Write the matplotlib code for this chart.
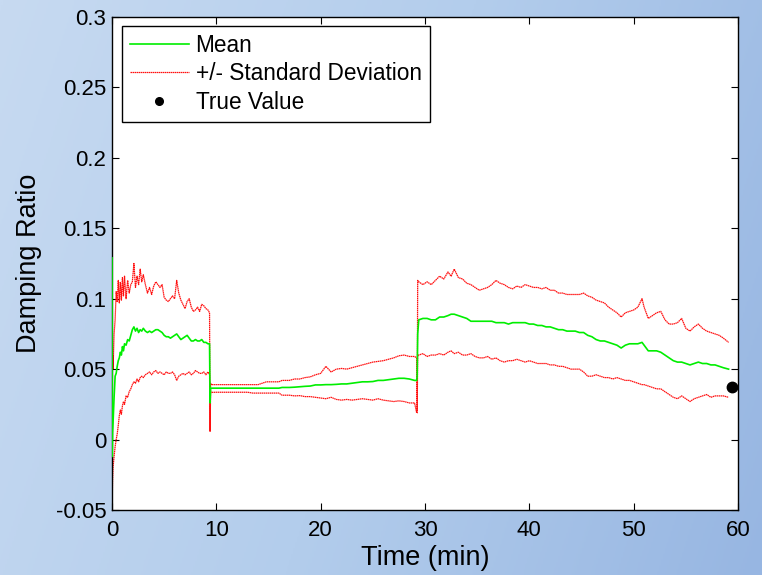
import numpy as np
import matplotlib
matplotlib.use('Agg')
import matplotlib.pyplot as plt
from matplotlib.colors import LinearSegmentedColormap
from matplotlib.lines import Line2D

plt.rcParams['font.family'] = ['Liberation Sans', 'DejaVu Sans']

# ---------------- data ----------------
time_a = [0, 0.02, 0.05, 0.1, 0.2, 0.3, 0.4, 0.5, 0.6, 0.7, 0.8, 0.9, 1.0, 1.1, 1.2,
          1.35, 1.5, 1.65, 1.8, 1.95, 2.1, 2.25, 2.4, 2.55, 2.7, 2.85, 3.0, 3.2, 3.4,
          3.6, 3.8, 4.0, 4.2, 4.4, 4.6, 4.8, 5.0, 5.2, 5.4, 5.6, 5.8, 6.0, 6.2, 6.4,
          6.6, 6.8, 7.0, 7.2, 7.4, 7.6, 7.8, 8.0, 8.2, 8.4, 8.6, 8.8, 9.0, 9.2, 9.35,
          9.4, 9.45, 9.5]
upper_a = [0.194, 0.02, 0.06, 0.05, 0.075, 0.085, 0.105, 0.098, 0.113, 0.097, 0.112,
           0.099, 0.115, 0.102, 0.116, 0.100, 0.113, 0.104, 0.110, 0.112, 0.125, 0.108,
           0.116, 0.110, 0.121, 0.112, 0.117, 0.110, 0.104, 0.108, 0.103, 0.109, 0.112,
           0.110, 0.108, 0.110, 0.101, 0.099, 0.098, 0.100, 0.102, 0.100, 0.113, 0.104,
           0.099, 0.096, 0.093, 0.098, 0.100, 0.094, 0.091, 0.092, 0.094, 0.091, 0.096,
           0.095, 0.093, 0.092, 0.090, 0.006, 0.040, 0.039]
mean_a = [0.129, -0.012, 0.005, 0.012, 0.030, 0.045, 0.047, 0.052, 0.056, 0.058, 0.062,
          0.060, 0.066, 0.063, 0.068, 0.067, 0.071, 0.070, 0.074, 0.078, 0.080, 0.077,
          0.079, 0.076, 0.078, 0.077, 0.079, 0.077, 0.076, 0.077, 0.076, 0.077, 0.078,
          0.078, 0.077, 0.076, 0.074, 0.073, 0.073, 0.072, 0.073, 0.074, 0.075, 0.073,
          0.071, 0.072, 0.073, 0.074, 0.072, 0.070, 0.070, 0.071, 0.070, 0.070, 0.071,
          0.069, 0.069, 0.068, 0.068, 0.026, 0.036, 0.0365]
lower_a = [-0.050, -0.045, -0.030, -0.020, -0.012, -0.005, 0.000, 0.004, 0.010, 0.017,
           0.021, 0.018, 0.024, 0.027, 0.025, 0.031, 0.030, 0.034, 0.036, 0.039, 0.041,
           0.040, 0.043, 0.041, 0.044, 0.045, 0.044, 0.046, 0.047, 0.048, 0.046, 0.048,
           0.049, 0.047, 0.048, 0.047, 0.046, 0.048, 0.047, 0.047, 0.048, 0.046, 0.042,
           0.045, 0.046, 0.047, 0.046, 0.047, 0.048, 0.046, 0.047, 0.049, 0.048, 0.047,
           0.047, 0.048, 0.046, 0.048, 0.046, 0.006, 0.034, 0.0335]

time_b = [10, 11, 12, 13, 13.5, 14, 14.8, 15, 16, 16.3, 17, 17.5, 18, 18.5, 19, 19.5,
          20, 20.5, 21, 21.5, 22, 22.5, 23, 23.5, 24, 24.5, 25, 25.5, 26, 26.5, 27,
          27.5, 28, 28.5, 29, 29.2, 29.25, 29.3]
upper_b = [0.039, 0.039, 0.039, 0.039, 0.039, 0.039, 0.041, 0.041, 0.041, 0.042, 0.042,
           0.043, 0.043, 0.044, 0.0445, 0.046, 0.047, 0.052, 0.048, 0.050, 0.0505, 0.050,
           0.051, 0.052, 0.053, 0.054, 0.055, 0.0555, 0.056, 0.057, 0.058, 0.0595, 0.060,
           0.059, 0.059, 0.058, 0.020, 0.113]
mean_b = [0.0365, 0.0365, 0.0365, 0.0365, 0.0365, 0.0365, 0.0365, 0.0365, 0.0365, 0.037,
          0.037, 0.0372, 0.0375, 0.0378, 0.038, 0.0388, 0.0388, 0.039, 0.039, 0.0392,
          0.0395, 0.0395, 0.040, 0.0405, 0.041, 0.041, 0.0412, 0.042, 0.042, 0.0425,
          0.043, 0.0435, 0.0435, 0.043, 0.042, 0.042, 0.045, 0.075]
lower_b = [0.0336, 0.0336, 0.0336, 0.0336, 0.033, 0.033, 0.033, 0.033, 0.033, 0.0315,
           0.0315, 0.031, 0.0312, 0.0305, 0.0305, 0.030, 0.0295, 0.029, 0.030, 0.0285,
           0.028, 0.0285, 0.028, 0.0285, 0.029, 0.0285, 0.028, 0.029, 0.028, 0.0275,
           0.027, 0.0275, 0.027, 0.026, 0.026, 0.019, 0.019, 0.060]

time_c = [29.4, 29.8, 30.2, 30.6, 31.0, 31.4, 31.8, 32.2, 32.5, 32.8, 33.2, 33.6, 34.0,
          34.4, 34.8, 35.2, 35.6, 36.0, 36.4, 36.8, 37.2, 37.6, 38.0, 38.4, 38.8, 39.2,
          39.6, 40.0, 40.4, 40.8, 41.2, 41.6, 42.0, 42.4, 42.8, 43.2, 43.6, 44.0, 44.4,
          44.8, 45.2, 45.6, 46.0, 46.4, 46.8, 47.2, 47.6, 48.0, 48.4, 48.8, 49.2, 49.6,
          50.0, 50.4, 50.8, 51.0, 51.4, 51.8, 52.2, 52.6, 53.0, 53.4, 53.8, 54.2, 54.6,
          55.0, 55.4, 55.8, 56.2, 56.6, 57.0, 57.4, 57.8, 58.2, 58.6, 59.1]
upper_c = [0.112, 0.110, 0.112, 0.110, 0.113, 0.116, 0.114, 0.119, 0.116, 0.121, 0.115,
           0.114, 0.111, 0.110, 0.108, 0.106, 0.107, 0.108, 0.110, 0.113, 0.111, 0.110,
           0.108, 0.107, 0.109, 0.108, 0.110, 0.109, 0.108, 0.108, 0.107, 0.108, 0.106,
           0.106, 0.104, 0.104, 0.103, 0.103, 0.103, 0.103, 0.104, 0.102, 0.101, 0.099,
           0.098, 0.097, 0.094, 0.092, 0.090, 0.087, 0.090, 0.091, 0.092, 0.094, 0.100,
           0.094, 0.086, 0.088, 0.090, 0.091, 0.085, 0.082, 0.082, 0.083, 0.086, 0.079,
           0.077, 0.080, 0.082, 0.079, 0.077, 0.076, 0.075, 0.074, 0.072, 0.069]
mean_c = [0.085, 0.086, 0.086, 0.085, 0.085, 0.087, 0.087, 0.088, 0.089, 0.089, 0.088,
          0.087, 0.086, 0.084, 0.084, 0.084, 0.084, 0.084, 0.084, 0.083, 0.083, 0.083,
          0.082, 0.083, 0.083, 0.083, 0.083, 0.082, 0.082, 0.081, 0.081, 0.080, 0.080,
          0.079, 0.078, 0.078, 0.077, 0.077, 0.077, 0.076, 0.076, 0.074, 0.073, 0.071,
          0.070, 0.070, 0.069, 0.068, 0.067, 0.065, 0.067, 0.068, 0.068, 0.068, 0.069,
          0.067, 0.063, 0.063, 0.063, 0.062, 0.060, 0.058, 0.056, 0.055, 0.055, 0.054,
          0.053, 0.054, 0.055, 0.054, 0.054, 0.053, 0.053, 0.052, 0.051, 0.050]
lower_c = [0.060, 0.061, 0.059, 0.060, 0.060, 0.061, 0.060, 0.062, 0.063, 0.061, 0.062,
           0.060, 0.060, 0.061, 0.059, 0.058, 0.058, 0.059, 0.057, 0.058, 0.056, 0.055,
           0.056, 0.056, 0.057, 0.056, 0.055, 0.056, 0.055, 0.054, 0.054, 0.054, 0.053,
           0.053, 0.052, 0.052, 0.051, 0.050, 0.050, 0.050, 0.048, 0.045, 0.045, 0.046,
           0.045, 0.044, 0.044, 0.043, 0.044, 0.043, 0.042, 0.042, 0.041, 0.040, 0.039,
           0.039, 0.038, 0.037, 0.036, 0.036, 0.034, 0.032, 0.030, 0.029, 0.031, 0.029,
           0.027, 0.029, 0.030, 0.031, 0.032, 0.030, 0.031, 0.031, 0.031, 0.030]

true_time = [59.4]
true_value = [0.037]

x_ticks = [0, 10, 20, 30, 40, 50, 60]
y_ticks = [-0.05, 0, 0.05, 0.1, 0.15, 0.2, 0.25, 0.3]
y_tick_labels = ['-0.05', '0', '0.05', '0.1', '0.15', '0.2', '0.25', '0.3']

time = time_a + time_b + time_c
mean = mean_a + mean_b + mean_c
upper = upper_a + upper_b + upper_c
lower = lower_a + lower_b + lower_c

# ---------------- figure ----------------
W, H = 762, 575
fig = plt.figure(figsize=(W / 100, H / 100), dpi=100)

bg = fig.add_axes([0, 0, 1, 1], zorder=-5)
bg.axis('off')
gx, gy = np.meshgrid(np.linspace(0, 1, 400), np.linspace(0, 1, 300))
grad = 0.8 * gx + 0.2 * gy
cmap = LinearSegmentedColormap.from_list('bgblue', ['#c7daf1', '#b3cdec', '#97b6e2'])
bg.imshow(grad, cmap=cmap, aspect='auto', extent=[0, 1, 0, 1], origin='upper')
bg.set_xlim(0, 1)
bg.set_ylim(0, 1)

ax = fig.add_axes([112 / W, 1 - 510 / H, 626 / W, 493 / H])
ax.set_facecolor('white')

red_ls = (0, (1.2, 0.4))
ax.plot(time, mean, color='#00ee00', lw=1.2, zorder=3)
ax.plot(time, upper, color='#ff1010', lw=0.9, ls=red_ls, zorder=2)
ax.plot(time, lower, color='#ff1010', lw=0.9, ls=red_ls, zorder=2)
ax.plot(true_time, true_value, 'o', color='black', ms=7.5, zorder=4, clip_on=False)

ax.set_xlim(0, 60)
ax.set_ylim(-0.05, 0.3)
ax.set_xticks(x_ticks)
ax.set_xticklabels([str(v) for v in x_ticks])
ax.set_yticks(y_ticks)
ax.set_yticklabels(y_tick_labels)
ax.tick_params(direction='in', top=True, right=True, length=5, width=0.8,
               labelsize=16, colors='black')
ax.tick_params(axis='x', pad=7)
ax.tick_params(axis='y', pad=4)
for s in ax.spines.values():
    s.set_linewidth(1.0)
    s.set_color('black')

ax.set_xlabel('Time (min)', fontsize=19.5, labelpad=3)
ax.set_ylabel('Damping Ratio', fontsize=19.5, labelpad=10)

handles = [
    Line2D([], [], color='#00ee00', lw=1.2),
    Line2D([], [], color='#ff1010', lw=0.9, ls=red_ls),
    Line2D([], [], color='black', marker='o', ls='none', ms=5.5),
]
labels = ['Mean', '+/- Standard Deviation', 'True Value']
leg = ax.legend(handles, labels, loc='upper left',
                bbox_to_anchor=(122 / W, 1 - 26 / H), bbox_transform=fig.transFigure,
                fontsize=16.3, frameon=True, fancybox=False, shadow=False,
                borderpad=0.35, labelspacing=0.24, handlelength=2.6,
                handletextpad=0.3, borderaxespad=0)
leg.get_frame().set_edgecolor('black')
leg.get_frame().set_linewidth(1.0)
leg.get_frame().set_facecolor('white')
leg.get_frame().set_alpha(1.0)

fig.savefig('out.png', dpi=100)
